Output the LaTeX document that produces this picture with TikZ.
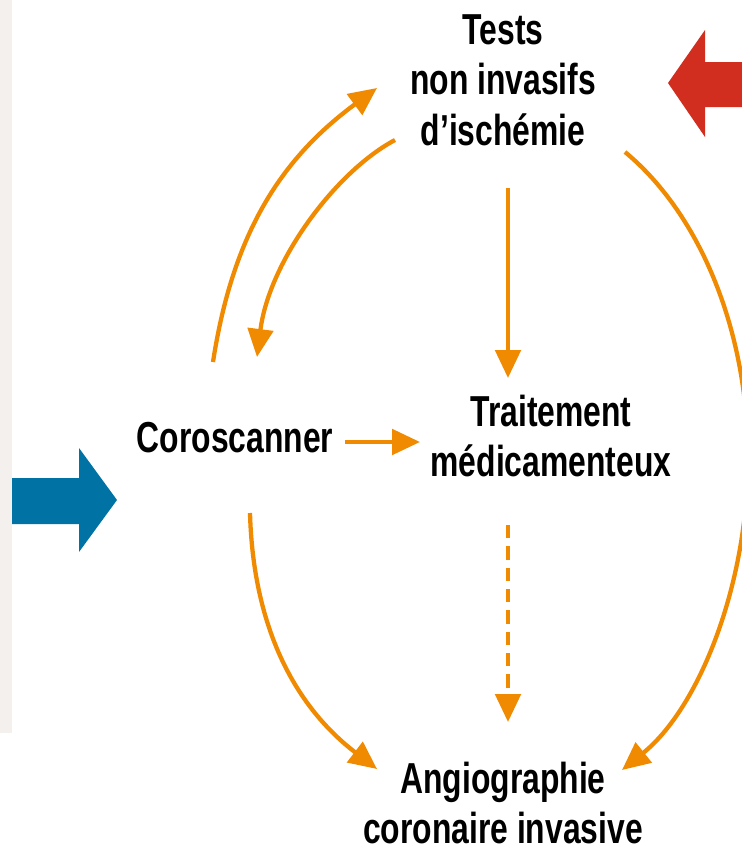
\documentclass[tikz,border=0pt]{standalone}
\usepackage{fontspec}
\setmainfont{Liberation Sans}[FakeStretch=0.8,BoldFeatures={FakeStretch=0.735}]
\usetikzlibrary{arrows.meta}
\definecolor{flowOrange}{RGB}{240,138,0}
\definecolor{inBlue}{RGB}{0,114,163}
\definecolor{inRed}{RGB}{209,46,31}
\definecolor{panelGray}{RGB}{243,240,237}

\begin{document}
\begin{tikzpicture}[x=0.75pt,y=0.75pt,yscale=-1,xscale=1,
  lbl/.style={inner sep=0pt,align=center,font=\fontsize{32.5}{38}\selectfont\bfseries},
  flow/.style={draw=flowOrange,line width=3.2pt,-{Triangle[length=21pt,width=19pt]}},
  dashflow/.style={flow,dash pattern=on 10pt off 6pt}]
\useasboundingbox (0,0) rectangle (742,853);

%Shape: Rectangle
\fill[panelGray] (0,0) rectangle (12,733);
%Shape: Right Arrow
\fill[inBlue] (12,478) -- (79,478) -- (79,448) -- (117,500) -- (79,552) -- (79,524) -- (12,524) -- cycle;
%Shape: Left Arrow
\fill[inRed] (742,62) -- (705,62) -- (705,30) -- (668,83) -- (705,137) -- (705,107) -- (742,107) -- cycle;

% Text Node
\node[lbl] (tests) at (503,80) {Tests\\non invasifs\\d’ischémie};
% Text Node
\node[lbl] (coro) at (235,438) {Coroscanner};
% Text Node
\node[lbl] (trait) at (551,436) {Traitement\\médicamenteux};
% Text Node
\node[lbl] (angio) at (503,803) {Angiographie\\coronaire invasive};

%Curve Lines
\draw[flow] ([shift={(-22,-76)}]coro.center) .. controls +(20,-130) and +(-95,70) .. ([shift={(-126,8)}]tests.center);
%Curve Lines
\draw[flow] ([shift={(-108,60)}]tests.center) .. controls +(-60,32) and +(12,-95) .. ([shift={(22,-81)}]coro.center);
%Curve Lines
\draw[flow] ([shift={(15,75)}]coro.center) .. controls +(3,110) and +(-85,-65) .. ([shift={(-126,-34)}]angio.center);
%Curve Lines
\draw[flow] ([shift={(122,72)}]tests.center) .. controls +(76,63) and +(0,-126) .. ([shift={(245,378)}]tests.center)
  .. controls +(0,127) and +(77,-62) .. ([shift={(119,-33)}]angio.center);

%Straight Lines
\draw[flow] ([shift={(5,108)}]tests.center) -- ([shift={(-43,-58)}]trait.center);
%Straight Lines
\draw[flow] ([shift={(110,4)}]coro.center) -- ([shift={(-131,6)}]trait.center);
%Straight Lines
\draw[dashflow] ([shift={(-43,89)}]trait.center) -- ([shift={(5,-81)}]angio.center);

\end{tikzpicture}
\end{document}
